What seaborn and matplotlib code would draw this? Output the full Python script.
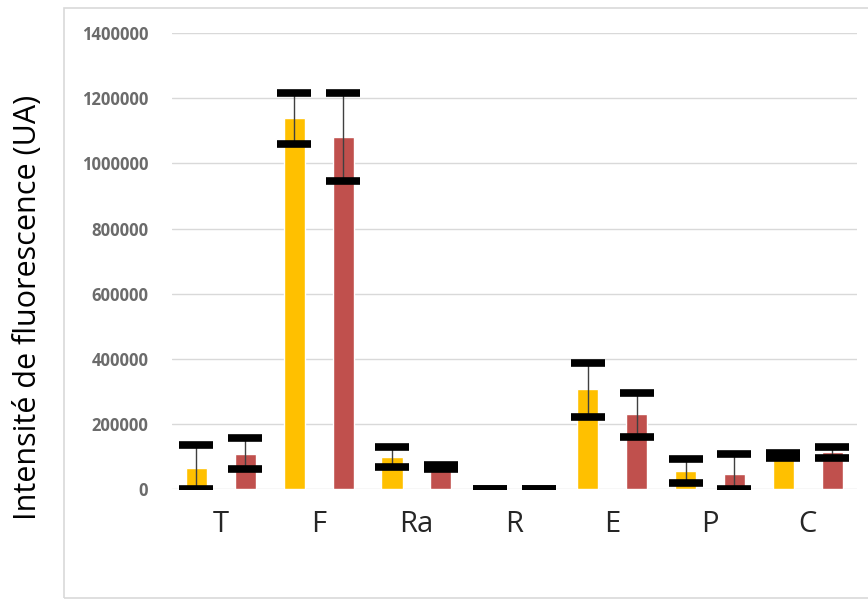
import numpy as np
import pandas as pd
import seaborn as sns
import matplotlib.pyplot as plt
from matplotlib.patches import Rectangle

# Values
categories = ["T", "F", "Ra", "R", "E", "P", "C"]
series_names = ["jaune", "rouge"]
mean_yellow = [65000, 1138000, 100000, 0, 307000, 56000, 101000]
low_yellow = [0, 1060000, 69000, 0, 223000, 20000, 95000]
high_yellow = [136000, 1216000, 130000, 0, 389000, 92000, 110000]
mean_red = [108000, 1082000, 68000, 0, 230000, 48000, 113000]
low_red = [61000, 945000, 61000, 0, 161000, 0, 97000]
high_red = [158000, 1216000, 75000, 0, 295000, 108000, 129000]
y_ticks = [0, 200000, 400000, 600000, 800000, 1000000, 1200000, 1400000]

df = pd.DataFrame({
    "cat": categories * 2,
    "serie": [series_names[0]] * 7 + [series_names[1]] * 7,
    "val": mean_yellow + mean_red,
})

sns.set_style("white")
plt.rcParams["font.family"] = ["Open Sans", "DejaVu Sans"]

fig = plt.figure(figsize=(8.68, 6.0), dpi=100)
ax = fig.add_axes([0.198, 0.1845, 0.789, 0.7605])

# light grey frame around the chart area
fig.patches.append(Rectangle((64 / 868, 0.003), 1.0, 0.984, transform=fig.transFigure,
                             fill=False, edgecolor="#d9d9d9", lw=1.2))

sns.barplot(data=df, x="cat", y="val", hue="serie", order=categories,
            palette=["#FFC000", "#C0504D"], saturation=1, width=1.0, gap=0.57,
            errorbar=None, legend=False, ax=ax, zorder=2)

lows = [low_yellow, low_red]
highs = [high_yellow, high_red]
means = [mean_yellow, mean_red]
bar_groups = list(ax.containers)
for k, cont in enumerate(bar_groups):
    xs = [p.get_x() + p.get_width() / 2 for p in cont.patches]
    m = np.array(means[k])
    yerr = [m - np.array(lows[k]), np.array(highs[k]) - m]
    _, caps, bars = ax.errorbar(xs, m, yerr=yerr, fmt="none", ecolor="#404040",
                                elinewidth=1.0, capsize=12.5, capthick=5.5, zorder=4)
    for c in caps:
        c.set_markeredgecolor("black")

ax.set_ylim(0, 1400000)
ax.set_xlim(-0.5, 6.5)
ax.set_yticks(y_ticks)
ax.set_yticklabels([str(v) for v in y_ticks], fontsize=12, fontweight="bold", color="#6b6b6b")
ax.tick_params(axis="y", length=0, pad=17)
ax.tick_params(axis="x", length=0, pad=15, labelsize=21)
ax.grid(axis="y", color="#d9d9d9", lw=1, zorder=0)
ax.set_axisbelow(True)
for s in ax.spines.values():
    s.set_visible(False)
ax.set_xlabel("")
ax.set_ylabel("")
fig.text(0.032, 0.487, "Intensité de fluorescence (UA)", rotation=90,
         ha="center", va="center", fontsize=22, color="black")

fig.savefig("out.png", dpi=100)
